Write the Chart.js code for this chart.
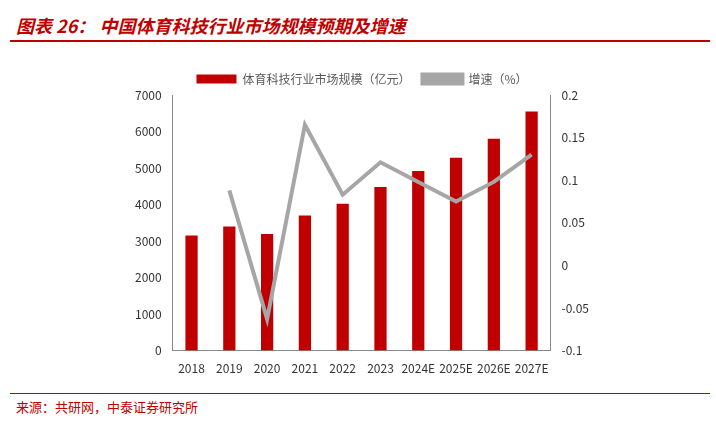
<!DOCTYPE html>
<html><head><meta charset="utf-8">
<script src="https://cdn.jsdelivr.net/npm/chart.js@4"></script>
<style>
body{margin:0;width:716px;height:426px;background:#fff;position:relative;overflow:hidden;font-family:"Noto Sans CJK SC",sans-serif}
#title{position:absolute;left:16px;top:12px;color:#C00000;font-style:italic;font-weight:bold;font-size:18px}
#tl{position:absolute;left:10px;top:40px;width:700px;border-top:2px solid #C00000}
#bl{position:absolute;left:10px;top:393px;width:700px;border-top:1px solid #C00000}
#src{position:absolute;left:16px;top:397px;color:#C00000;font-size:13px}
#wrap{position:absolute;left:132px;top:61px;width:460px;height:318px}
</style></head><body>
<div id="title">图表 26：  中国体育科技行业市场规模预期及增速</div>
<div id="tl"></div>
<div id="wrap"><canvas id="c"></canvas></div>
<div id="bl"></div>
<div id="src">来源：共研网，中泰证券研究所</div>
<script>
const categories=["2018","2019","2020","2021","2022","2023","2024E","2025E","2026E","2027E"];
const marketSize=[3150,3400,3190,3700,4020,4480,4920,5280,5800,6550];
const growth=[null,0.088,-0.063,0.165,0.083,0.121,0.098,0.075,0.098,0.130];
const leftTicks=[0,1000,2000,3000,4000,5000,6000,7000];
const rightTicks=[-0.1,-0.05,0,0.05,0.1,0.15,0.2];
const f={family:"'Noto Sans CJK SC',sans-serif",size:12};
new Chart(document.getElementById('c'),{
data:{labels:categories,datasets:[
{type:'line',label:'增速（%）',data:growth,yAxisID:'y1',borderColor:'#A6A6A6',backgroundColor:'#A6A6A6',borderWidth:4,pointRadius:0,tension:0,order:0},
{type:'bar',label:'体育科技行业市场规模（亿元）',data:marketSize,yAxisID:'y',backgroundColor:'#C00000',categoryPercentage:0.72,barPercentage:0.45,order:1}
]},
options:{responsive:true,maintainAspectRatio:false,animation:false,
plugins:{legend:{reverse:true,labels:{font:f,color:'#595959',boxWidth:40,boxHeight:9,padding:12}},tooltip:{enabled:false}},
scales:{
x:{grid:{display:false},border:{color:'#888'},ticks:{font:f,color:'#333',maxRotation:0,minRotation:0,autoSkip:false}},
y:{min:0,max:7000,afterBuildTicks:a=>{a.ticks=leftTicks.map(v=>({value:v}))},grid:{display:false},border:{color:'#888'},ticks:{font:f,color:'#333',callback:v=>String(v)}},
y1:{position:'right',min:-0.1,max:0.2,afterBuildTicks:a=>{a.ticks=rightTicks.map(v=>({value:v}))},grid:{display:false},border:{color:'#888'},ticks:{font:f,color:'#333',callback:v=>String(+v.toFixed(2))}}
}}});
</script></body></html>
